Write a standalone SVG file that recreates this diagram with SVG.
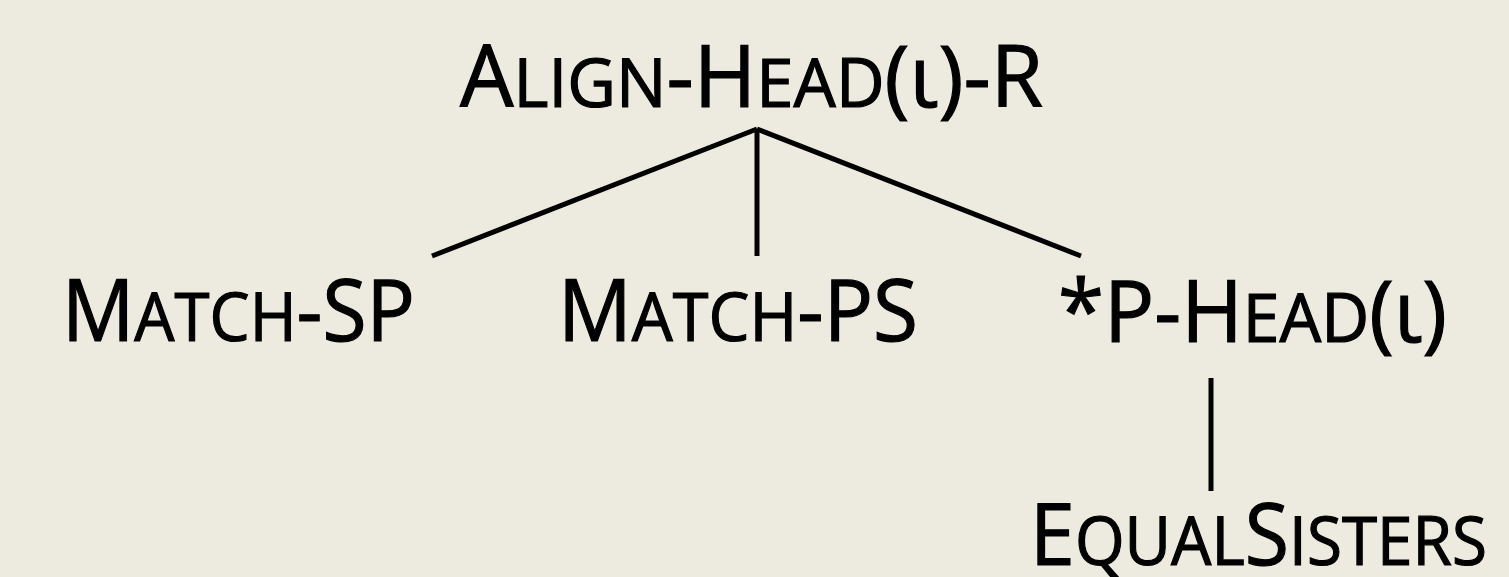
<svg xmlns="http://www.w3.org/2000/svg" width="1509" height="577" viewBox="0 0 1509 577">
<style>
.t{font-family:"Open Sans","Noto Sans","DejaVu Sans",sans-serif;font-size:86px;fill:#000;stroke:#000;stroke-width:1.2}
.s{font-size:68px}
.c{stroke:#000;stroke-width:5;fill:none;stroke-linecap:butt}
</style>
<rect width="1509" height="577" fill="#edeae0"/>
<g id="connectors">
<line class="c" x1="757" y1="129" x2="432" y2="256"/>
<line class="c" x1="757" y1="129" x2="757" y2="256"/>
<line class="c" x1="757" y1="129" x2="1081" y2="256"/>
<line class="c" x1="1211" y1="378" x2="1211" y2="491"/>
</g>
<g id="align-head-r">
<text class="t" x="460" y="107" textLength="583" lengthAdjust="spacingAndGlyphs">A<tspan class="s">LIGN</tspan>-H<tspan class="s">EAD</tspan>(ι)-R</text>
</g>
<g id="match-sp">
<text class="t" x="62" y="341" textLength="353" lengthAdjust="spacingAndGlyphs">M<tspan class="s">ATCH</tspan>-SP</text>
</g>
<g id="match-ps">
<text class="t" x="558" y="341" textLength="360" lengthAdjust="spacingAndGlyphs">M<tspan class="s">ATCH</tspan>-PS</text>
</g>
<g id="p-head">
<text class="t" x="1058" y="342" textLength="389" lengthAdjust="spacingAndGlyphs">*P-H<tspan class="s">EAD</tspan>(ι)</text>
</g>
<g id="equal-sisters">
<text class="t" x="1030" y="565" textLength="457" lengthAdjust="spacingAndGlyphs">E<tspan class="s">QUAL</tspan>S<tspan class="s">ISTERS</tspan></text>
</g>
</svg>
